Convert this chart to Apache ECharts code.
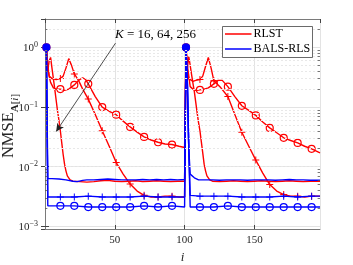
<!DOCTYPE html>
<html><head><meta charset="utf-8">
<script src="https://cdn.jsdelivr.net/npm/echarts@6/dist/echarts.min.js"></script>
<style>html,body{margin:0;padding:0;background:#fff}#c{width:353px;height:265px}</style>
</head><body><div id="c"></div>
<script>
// ---- data ----
const xTicks = [50, 100, 150];
const legendNames = ['RLST', 'BALS-RLS'];
const kLabel = 'K = 16, 64, 256';

// RLST, K = 16 (no marker)
const rlstK16 = [[1,1],[2,0.4],[3,0.6],[4,0.68],[5,0.45],[6,0.3],[7,0.2],[8,0.13],[9,0.085],[10,0.06],[11,0.04],[12,0.025],[13,0.016],[14,0.011],[15,0.0085],[16,0.007],[18,0.006],[20,0.0057],[25,0.0056],[30,0.0055],[35,0.0056],[40,0.0058],[45,0.0059],[50,0.0057],[55,0.0056],[60,0.0057],[65,0.0058],[70,0.0056],[75,0.0057],[80,0.0058],[85,0.0057],[90,0.0056],[95,0.0057],[100,0.0057],
  [101,1],[102,0.45],[103,0.7],[104,0.5],[105,0.35],[106,0.25],[107,0.18],[108,0.12],[109,0.08],[110,0.055],[111,0.04],[112,0.026],[113,0.017],[114,0.011],[115,0.0085],[116,0.007],[118,0.006],[120,0.0057],[125,0.0056],[130,0.0057],[135,0.0058],[140,0.0057],[145,0.0056],[150,0.0057],[155,0.0058],[160,0.0057],[165,0.0056],[170,0.0057],[175,0.0058],[180,0.0057],[185,0.0056],[190,0.0057],[197,0.0057]];
// RLST, K = 64 ('+')
const rlstK64 = [[1,1],[2,0.45],[3,0.33],[5,0.3],[8,0.29],[11,0.3],[13,0.33],[15,0.45],[17,0.65],[19,0.5],[21,0.36],[24,0.28],[27,0.2],[31,0.136],[36,0.075],[41,0.04],[46,0.022],[51,0.0117],[56,0.0075],[61,0.0051],[66,0.0039],[71,0.0033],[76,0.0031],[81,0.0031],[86,0.0032],[91,0.0032],[96,0.0031],[100,0.0031],
  [101,1],[102,0.4],[103,0.3],[106,0.27],[108,0.28],[111,0.29],[113,0.33],[115,0.48],[117,0.68],[119,0.45],[121,0.275],[126,0.21],[131,0.15],[136,0.075],[141,0.0377],[146,0.022],[151,0.0129],[156,0.0078],[161,0.005],[166,0.0039],[171,0.0034],[176,0.0032],[181,0.0032],[186,0.0031],[191,0.0032],[197,0.0032]];
// RLST, K = 256 ('o')
const rlstK256 = [[1,1],[2,0.5],[3,0.33],[4,0.26],[6,0.21],[8,0.2],[11,0.2],[14,0.19],[17,0.2],[21,0.235],[24,0.28],[27,0.31],[29,0.29],[31,0.245],[36,0.15],[41,0.1],[46,0.085],[51,0.0744],[56,0.058],[61,0.0464],[66,0.038],[71,0.0316],[76,0.028],[81,0.0257],[86,0.024],[91,0.0235],[96,0.022],[100,0.021],
  [101,1],[102,0.5],[103,0.33],[104,0.22],[106,0.2],[108,0.19],[111,0.194],[114,0.2],[117,0.21],[121,0.245],[124,0.28],[127,0.28],[131,0.22],[136,0.15],[141,0.105],[146,0.088],[151,0.0725],[156,0.056],[161,0.0447],[166,0.037],[171,0.0305],[176,0.0275],[181,0.025],[186,0.022],[191,0.0199],[197,0.0171]];
// BALS-RLS, K = 16 (no marker)
const balsK16 = [[1,1],[2,0.0063],[5,0.0063],[10,0.0062],[15,0.006],[20,0.0057],[23,0.0056],[27,0.0059],[30,0.006],[35,0.006],[40,0.0061],[45,0.0062],[50,0.0061],[55,0.006],[60,0.006],[65,0.006],[70,0.0061],[75,0.006],[80,0.0061],[85,0.006],[90,0.0061],[95,0.006],[100,0.0061],
  [101,1],[102,0.25],[103,0.02],[104,0.0075],[105,0.0073],[107,0.0065],[110,0.006],[115,0.006],[120,0.006],[125,0.0059],[130,0.006],[135,0.006],[140,0.006],[145,0.0059],[150,0.006],[155,0.006],[160,0.006],[165,0.0059],[170,0.006],[175,0.0061],[180,0.006],[185,0.006],[190,0.0059],[197,0.0059]];
// BALS-RLS, K = 64 ('+')
const balsK64 = [[1,1],[2,0.0031],[11,0.0031],[21,0.0031],[31,0.0032],[41,0.0031],[51,0.0031],[61,0.0031],[71,0.0032],[81,0.0031],[91,0.0031],[100,0.0031],
  [101,1],[102,0.25],[103,0.02],[104,0.0033],[111,0.0032],[121,0.0032],[131,0.0032],[141,0.0031],[151,0.0031],[161,0.0031],[171,0.0032],[181,0.0031],[191,0.0032],[197,0.0032]];
// BALS-RLS, K = 256 ('o')
const balsK256 = [[1,1],[2,0.0022],[11,0.0022],[21,0.0022],[31,0.0021],[41,0.0021],[51,0.0021],[61,0.0021],[71,0.0022],[81,0.0021],[91,0.0022],[100,0.0021],
  [101,1],[102,0.25],[103,0.02],[104,0.0021],[111,0.0021],[121,0.0021],[131,0.0022],[141,0.0021],[151,0.0021],[161,0.0021],[171,0.0021],[181,0.0021],[191,0.0021],[197,0.0021]];

// minor log grid values
const minorVals = [];
[1e-3, 1e-2, 1e-1, 1].forEach(d => { for (let k = 2; k <= 9; k++) { const v = d * k; if (v < 3) minorVals.push(v); } });

const RED = '#ff0000', BLUE = '#0000ff';
const PLUS = 'path://M0,4.3L10,4.3L10,5.7L0,5.7Z M4.3,0L5.7,0L5.7,10L4.3,10Z';
const FONT = 'Liberation Serif';

function mk(name, pts, color, marker, filledFirst) {
  const data = pts.map(p => {
    const isMark = marker && ((p[0] - 1) % 10 === 0);
    const item = { value: p };
    if (!isMark) item.symbol = 'none';
    else if (filledFirst && (p[0] === 1 || p[0] === 101)) item.itemStyle = { color: color };
    return item;
  });
  const s = {
    type: 'line', name: name, data: data, showAllSymbol: true,
    lineStyle: { color: color, width: 1.4 }, itemStyle: { color: color },
    symbol: marker || 'none', animation: false, z: color === BLUE ? 4 : 3
  };
  if (marker === 'circle') {
    s.symbolSize = 7;
    s.itemStyle = { color: 'rgba(0,0,0,0)', borderColor: color, borderWidth: 1.2 };
  } else if (marker) {
    s.symbolSize = 7;
    s.itemStyle = { color: color };
  }
  return s;
}

const chart = echarts.init(document.getElementById('c'));
const axisCol = '#7a7a7a';
const expFmt = v => {
  const e = Math.log10(v);
  if (Math.abs(e - Math.round(e)) > 1e-6) return '';
  const r = Math.round(e);
  return '{b|10}{e|' + (r < 0 ? '\u2212' + (-r) : r) + '}';
};

const minorTickLines = [];
minorVals.forEach(v => {
  minorTickLines.push([{ coord: [0, v] }, { coord: [1.7, v] }]);
  minorTickLines.push([{ coord: [197, v] }, { coord: [195.3, v] }]);
});

chart.setOption({
  backgroundColor: '#fff',
  animation: false,
  grid: { left: 45, top: 19, right: 33, bottom: 36, containLabel: false, outerBoundsMode: 'none' },
  xAxis: [{
    type: 'value', min: 0, max: 197, interval: 50,
    name: 'i', nameLocation: 'middle', nameGap: 20,
    nameTextStyle: { fontFamily: FONT, fontSize: 13, fontStyle: 'italic', color: '#262626' },
    axisLine: { show: true, lineStyle: { color: axisCol, width: 1 } },
    axisTick: { show: true, inside: true, length: 4, lineStyle: { color: '#444' } },
    axisLabel: { showMinLabel: false, showMaxLabel: false, margin: 6, fontFamily: FONT, fontSize: 11, color: '#262626',
      formatter: v => (xTicks.indexOf(v) >= 0 ? String(v) : '') },
    splitLine: { show: true, lineStyle: { color: '#e3e3e3', width: 1 } }
  }, {
    type: 'value', min: 0, max: 197, interval: 50, position: 'top',
    axisLine: { show: true, lineStyle: { color: axisCol, width: 1 } },
    axisTick: { show: true, inside: true, length: 4, lineStyle: { color: '#444' } },
    axisLabel: { show: false }, splitLine: { show: false }
  }],
  yAxis: [{
    type: 'log', logBase: 10, min: 9e-4, max: 3,
    axisLine: { show: true, lineStyle: { color: axisCol, width: 1 } },
    axisTick: { show: true, inside: true, length: 4, lineStyle: { color: '#444' } },
    axisLabel: {
      showMinLabel: false, showMaxLabel: false, margin: 7, formatter: expFmt,
      rich: {
        b: { fontFamily: FONT, fontSize: 11, lineHeight: 11, padding: [2, 0, 0, 0], color: '#262626' },
        e: { fontFamily: FONT, fontSize: 8, lineHeight: 8, padding: [0, 0, 5, 0], color: '#262626' }
      }
    },
    splitLine: { show: true, lineStyle: { color: '#e3e3e3', width: 1 } }
  }, {
    type: 'log', logBase: 10, min: 9e-4, max: 3, position: 'right',
    axisLine: { show: true, lineStyle: { color: axisCol, width: 1 } },
    axisTick: { show: true, inside: true, length: 4, lineStyle: { color: '#444' } },
    axisLabel: { show: false }, splitLine: { show: false }
  }],
  graphic: [{
    type: 'text', left: 115, top: 28, z: 10,
    style: { text: '{k|K} = 16, 64, 256', font: '13px ' + FONT, fill: '#000',
      rich: { k: { fontStyle: 'italic', fontFamily: FONT, fontSize: 13 } } }
  }, {
    type: 'text', x: 11, y: 126, rotation: Math.PI / 2, z: 10,
    style: {
      text: '{n|NMSE}{s|A}{t|[}{u|i}{t|]}', align: 'center', verticalAlign: 'middle',
      font: '16px ' + FONT, fill: '#262626',
      rich: {
        n: { fontFamily: FONT, fontSize: 16.5, lineHeight: 16, padding: [0, 0, 4, 0], fill: '#262626' },
        s: { fontFamily: FONT, fontSize: 11, lineHeight: 11, fontWeight: 'bold', padding: [9, 0, 0, 0], fill: '#262626' },
        t: { fontFamily: FONT, fontSize: 11, lineHeight: 11, padding: [9, 0, 0, 0], fill: '#262626' },
        u: { fontFamily: FONT, fontSize: 11, lineHeight: 11, fontStyle: 'italic', padding: [9, 0, 0, 0], fill: '#262626' }
      }
    }
  }, {
    // legend box
    type: 'group', z: 20, children: [
      { type: 'rect', shape: { x: 222.5, y: 26.5, width: 90, height: 31 }, style: { fill: '#fff', stroke: '#444', lineWidth: 0.8 }, z: 20 },
      { type: 'line', shape: { x1: 225, y1: 34, x2: 251.5, y2: 34 }, style: { stroke: RED, lineWidth: 1.5 }, z: 21 },
      { type: 'line', shape: { x1: 225, y1: 49, x2: 251.5, y2: 49 }, style: { stroke: BLUE, lineWidth: 1.5 }, z: 21 },
      { type: 'text', x: 253.5, y: 34, z: 21, style: { text: legendNames[0], font: '12px ' + FONT, fill: '#000', verticalAlign: 'middle' } },
      { type: 'text', x: 253.5, y: 49, z: 21, style: { text: legendNames[1], font: '12px ' + FONT, fill: '#000', verticalAlign: 'middle' } }
    ]
  }],
  series: [
    {
      type: 'line', name: '_grid', data: [], silent: true, animation: false, z: 1,
      markLine: {
        silent: true, symbol: 'none', label: { show: false }, animation: false,
        lineStyle: { color: '#e8e8e8', type: [2, 2], width: 1 },
        data: minorVals.map(v => ({ yAxis: v }))
      }
    },
    {
      type: 'line', name: '_ticks', data: [], silent: true, animation: false, z: 6,
      markLine: {
        silent: true, symbol: 'none', label: { show: false }, animation: false,
        lineStyle: { color: '#555', type: 'solid', width: 0.8 },
        data: minorTickLines
      }
    },
    mk('RLST', rlstK16, RED, null),
    mk('RLST K=64', rlstK64, RED, PLUS),
    mk('RLST K=256', rlstK256, RED, 'circle'),
    mk('BALS-RLS', balsK16, BLUE, null),
    mk('BALS-RLS K=64', balsK64, BLUE, PLUS),
    mk('BALS-RLS K=256', balsK256, BLUE, 'circle', true),
    {
      type: 'line', name: '_arrow', data: [], silent: true, animation: false, z: 7,
      markLine: {
        silent: true, symbol: ['none', 'arrow'], symbolSize: [6, 8], label: { show: false }, animation: false,
        lineStyle: { color: '#222', type: 'solid', width: 0.8 },
        data: [[{ coord: [50.5, 1.18] }, { coord: [8, 0.0388] }]]
      }
    }
  ]
});
</script>
</body></html>
